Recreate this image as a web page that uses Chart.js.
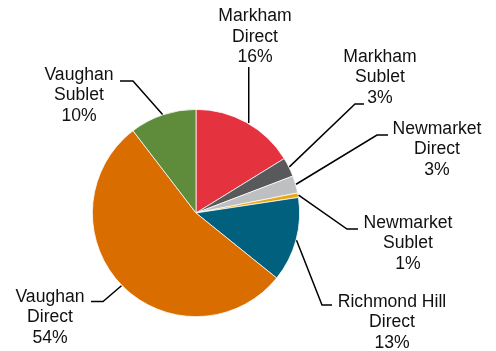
<!DOCTYPE html>
<html>
<head>
<meta charset="utf-8">
<script src="https://cdn.jsdelivr.net/npm/chart.js@4.4.1/dist/chart.umd.min.js"></script>
<style>
html,body{margin:0;padding:0;background:#fff;}
#wrap{width:496px;height:351px;position:relative;}
</style>
</head>
<body>
<div id="wrap"><canvas id="c" width="496" height="351"></canvas></div>
<script>
const categories = [
  ["Markham", "Direct"],
  ["Markham", "Sublet"],
  ["Newmarket", "Direct"],
  ["Newmarket", "Sublet"],
  ["Richmond Hill", "Direct"],
  ["Vaughan", "Direct"],
  ["Vaughan", "Sublet"]
];
const shares = [16.2, 3.0, 2.7, 0.7, 13.2, 53.8, 10.4];
const colors = ["#E4323F", "#58595B", "#BDBFC1", "#E8A813", "#00607E", "#D96D00", "#5E8C3B"];

// label layout: leader elbow/end points and text centre (layout only)
const labelLayout = [
  {elbow: null, end: "vertical", endY: 67, text: [255, 16.5]},
  {elbow: [355, 104], end: [364, 104], text: [380, 57]},
  {elbow: [377, 135], end: [388, 135], text: [437, 129]},
  {elbow: [347, 229], end: [358, 229], text: [408, 223]},
  {elbow: [322, 305], end: [332, 305], text: [392, 302]},
  {elbow: [103, 301.5], end: [91, 301.5], text: [50, 297]},
  {elbow: [133, 81], end: [120, 81], text: [79, 75]}
];

const total = shares.reduce((a, b) => a + b, 0);

const leaderPlugin = {
  id: 'leaders',
  afterDatasetsDraw(chart) {
    const ctx = chart.ctx;
    const meta = chart.getDatasetMeta(0);
    ctx.save();
    ctx.strokeStyle = '#000';
    ctx.lineWidth = 1.5;
    ctx.fillStyle = '#111';
    ctx.font = '17.6px "Liberation Sans", Arial, sans-serif';
    ctx.textAlign = 'center';
    ctx.textBaseline = 'middle';
    meta.data.forEach((arc, i) => {
      const p = arc.getProps(['x', 'y', 'startAngle', 'endAngle', 'outerRadius'], true);
      const mid = (p.startAngle + p.endAngle) / 2;
      const r = p.outerRadius + 0.5;
      const sx = p.x + Math.cos(mid) * r;
      const sy = p.y + Math.sin(mid) * r;
      const L = labelLayout[i];
      ctx.beginPath();
      if (L.end === "vertical") {
        ctx.moveTo(sx + 2, sy + 1);
        ctx.lineTo(sx + 2, L.endY);
      } else {
        ctx.moveTo(sx, sy);
        ctx.lineTo(L.elbow[0], L.elbow[1]);
        ctx.lineTo(L.end[0], L.end[1]);
      }
      ctx.stroke();
      const pct = Math.round(shares[i] / total * 100) + '%';
      const lines = categories[i].concat([pct]);
      lines.forEach((t, k) => {
        ctx.fillText(t, L.text[0], L.text[1] + k * 20.5);
      });
    });
    ctx.restore();
  }
};

new Chart(document.getElementById('c'), {
  type: 'pie',
  data: {
    labels: categories.map(c => c.join(' ')),
    datasets: [{
      data: shares,
      backgroundColor: colors,
      borderColor: '#ffffff',
      borderWidth: 0.75
    }]
  },
  options: {
    responsive: false,
    animation: false,
    layout: {padding: {left: 92, right: 196, top: 109, bottom: 34}},
    plugins: {legend: {display: false}, tooltip: {enabled: false}}
  },
  plugins: [leaderPlugin]
});
</script>
</body>
</html>
